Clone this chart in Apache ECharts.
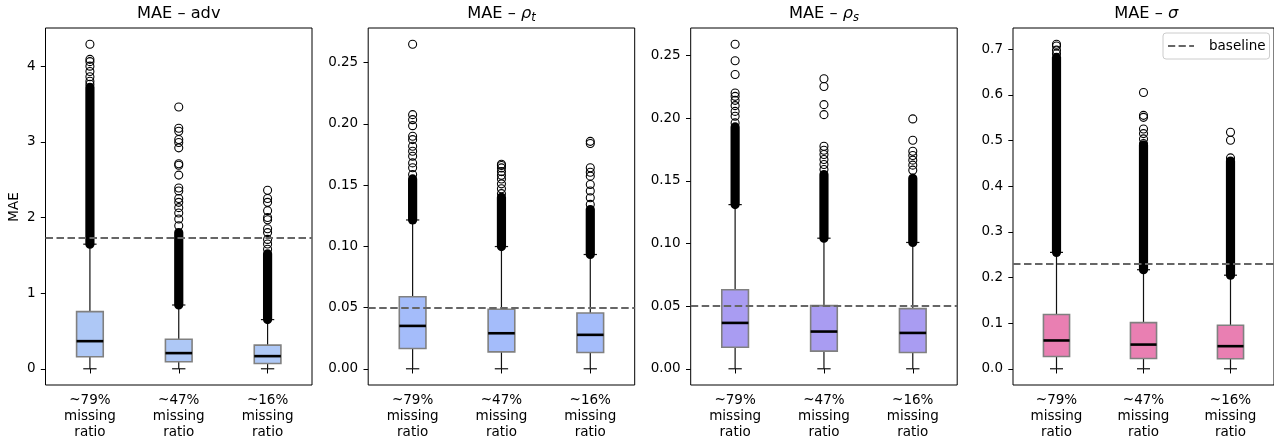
<!DOCTYPE html>
<html>
<head>
<meta charset="utf-8">
<script src="https://cdn.jsdelivr.net/npm/echarts@6/dist/echarts.min.js"></script>
<style>
  html, body { margin: 0; padding: 0; background: #fff; }
  #chart { width: 1274px; height: 440px; }
</style>
</head>
<body>
<div id="chart"></div>
<script>
// ---------------- DATA ----------------
const categories = ['~79%\nmissing\nratio', '~47%\nmissing\nratio', '~16%\nmissing\nratio'];

const titleMain = ['MAE – ', 'MAE – ', 'MAE – ', 'MAE – '];
const titleSymbol = ['adv', 'ρ', 'ρ', 'σ'];
const titleSymbolItalic = [false, true, true, true];
const titleSub = ['', 't', 's', ''];

const yAxisName = 'MAE';
const legendName = 'baseline';

// box stats per category: [whiskerLow, Q1, median, Q3, whiskerHigh]
const advBox   = [[0, 0.158, 0.365, 0.755, 1.647], [0, 0.092, 0.207, 0.390, 0.843], [0, 0.070, 0.167, 0.312, 0.650]];
const rhoTBox  = [[0, 0.0165, 0.0350, 0.0588, 0.1215], [0, 0.0138, 0.0290, 0.0486, 0.0998], [0, 0.0133, 0.0277, 0.0456, 0.0933]];
const rhoSBox  = [[0, 0.0172, 0.0366, 0.0631, 0.1310], [0, 0.0141, 0.0297, 0.0504, 0.1042], [0, 0.0130, 0.0286, 0.0480, 0.1008]];
const sigmaBox = [[0, 0.027, 0.062, 0.119, 0.255], [0, 0.0225, 0.053, 0.101, 0.217], [0, 0.022, 0.0495, 0.0954, 0.205]];

// ranges where outliers overlap into a solid column: [from, to]
const advDense   = [[1.647, 3.72], [0.843, 1.80], [0.650, 1.52]];
const rhoTDense  = [[0.1215, 0.155], [0.0998, 0.140], [0.0933, 0.130]];
const rhoSDense  = [[0.131, 0.193], [0.1042, 0.155], [0.1008, 0.152]];
const sigmaDense = [[0.255, 0.682], [0.217, 0.490], [0.205, 0.455]];

// individually visible outliers
const advOutliers = [
  [4.29, 4.09, 4.06, 4.00, 3.93, 3.86, 3.80, 3.76],
  [3.46, 3.18, 3.14, 3.03, 2.99, 2.92, 2.71, 2.69, 2.56, 2.39, 2.35, 2.25, 2.20, 2.13, 2.06, 1.98, 1.89],
  [2.36, 2.25, 2.20, 2.09, 2.00, 1.97, 1.85, 1.80, 1.71, 1.65, 1.58]
];
const rhoTOutliers = [
  [0.265, 0.2075, 0.2034, 0.1985, 0.1898, 0.1871, 0.1817, 0.1776, 0.1735, 0.1681, 0.1641, 0.1586],
  [0.167, 0.166, 0.164, 0.161, 0.158, 0.155, 0.151, 0.147, 0.143],
  [0.1857, 0.1839, 0.1641, 0.1605, 0.1573, 0.1505, 0.1451, 0.1397, 0.1342]
];
const rhoSOutliers = [
  [0.259, 0.2458, 0.2349, 0.2201, 0.2174, 0.2142, 0.2100, 0.2054, 0.2015, 0.1962],
  [0.2314, 0.2253, 0.2108, 0.2028, 0.1776, 0.1744, 0.1710, 0.1670, 0.1630, 0.1590],
  [0.1994, 0.1824, 0.1736, 0.1702, 0.1665, 0.1625, 0.1585]
];
const sigmaOutliers = [
  [0.711, 0.707, 0.698, 0.690],
  [0.6054, 0.5552, 0.5508, 0.5254, 0.5152, 0.5036, 0.4933],
  [0.518, 0.5005, 0.462]
];

const baselines = [1.73, 0.0508, 0.0512, 0.2263];

const advTicks   = [0, 1, 2, 3, 4];
const rhoTTicks  = [0, 0.05, 0.10, 0.15, 0.20, 0.25];
const rhoSTicks  = [0, 0.05, 0.10, 0.15, 0.20, 0.25];
const sigmaTicks = [0, 0.1, 0.2, 0.3, 0.4, 0.5, 0.6, 0.7];
const tickDecimals = [0, 2, 2, 1];

// ---------------- STYLE / LAYOUT ----------------
const boxColors = ['#aec8f6', '#a4bcfa', '#a99cf2', '#e97fb2'];
const FONT = 'DejaVu Sans';
const FS = 13.5;
const panelLeft = [45.5, 368.2, 690.7, 1013];
const panelWidth = 266.5;
const panelTop = 28;
const panelHeight = 358;

const panels = [
  { box: advBox, dense: advDense, out: advOutliers, ticks: advTicks },
  { box: rhoTBox, dense: rhoTDense, out: rhoTOutliers, ticks: rhoTTicks },
  { box: rhoSBox, dense: rhoSDense, out: rhoSOutliers, ticks: rhoSTicks },
  { box: sigmaBox, dense: sigmaDense, out: sigmaOutliers, ticks: sigmaTicks }
];

function renderBox(color) {
  return function (params, api) {
    const c = api.value(0);
    const bw = api.size([1, 0])[0] * 0.3;
    const p = i => api.coord([c, api.value(i)]);
    const lo = p(1), q1 = p(2), md = p(3), q3 = p(4), hi = p(5);
    const x = lo[0];
    const cap = bw / 4;
    const ls = { stroke: '#111', lineWidth: 1.2, fill: null };
    return {
      type: 'group',
      children: [
        { type: 'line', shape: { x1: x, y1: q3[1], x2: x, y2: hi[1] }, style: ls },
        { type: 'line', shape: { x1: x, y1: q1[1], x2: x, y2: lo[1] }, style: ls },
        { type: 'line', shape: { x1: x - cap, y1: hi[1], x2: x + cap, y2: hi[1] }, style: ls },
        { type: 'line', shape: { x1: x - cap, y1: lo[1], x2: x + cap, y2: lo[1] }, style: ls },
        { type: 'rect', shape: { x: x - bw / 2, y: q3[1], width: bw, height: q1[1] - q3[1] },
          style: { fill: color, stroke: '#808080', lineWidth: 1.6 } },
        { type: 'line', shape: { x1: x - bw / 2, y1: md[1], x2: x + bw / 2, y2: md[1] },
          style: { stroke: '#000', lineWidth: 2.6 } }
      ]
    };
  };
}

function renderDense(params, api) {
  const c = api.value(0);
  const a = api.coord([c, api.value(1)]);
  const b = api.coord([c, api.value(2)]);
  const r = 4.6;
  return {
    type: 'rect',
    shape: { x: a[0] - r, y: b[1] - r, width: 2 * r, height: a[1] - b[1] + 2 * r, r: r },
    style: { fill: '#000' }
  };
}

const grid = [], xAxis = [], yAxis = [], series = [], graphic = [];

panels.forEach((pn, i) => {
  grid.push({
    left: panelLeft[i], top: panelTop, width: panelWidth, height: panelHeight,
    show: true, borderColor: '#000', borderWidth: 1, backgroundColor: 'transparent'
  });
  xAxis.push({
    type: 'category', gridIndex: i, data: categories, boundaryGap: true,
    axisLine: { show: false },
    axisTick: { show: true, alignWithLabel: true, length: 4.7, lineStyle: { color: '#000', width: 1 } },
    axisLabel: { color: '#000', fontFamily: FONT, fontSize: FS, lineHeight: 16, margin: 7, interval: 0 },
    splitLine: { show: false }
  });
  let maxV = 0;
  pn.box.forEach(b => { maxV = Math.max(maxV, b[4]); });
  pn.dense.forEach(d => { maxV = Math.max(maxV, d[1]); });
  pn.out.forEach(o => o.forEach(v => { maxV = Math.max(maxV, v); }));
  const pad = maxV * 0.05;
  yAxis.push({
    type: 'value', gridIndex: i, min: -pad, max: maxV + pad,
    axisLine: { show: false },
    axisTick: { show: true, length: 4.7, customValues: pn.ticks, lineStyle: { color: '#000', width: 1 } },
    axisLabel: {
      color: '#000', fontFamily: FONT, fontSize: FS, margin: 10, customValues: pn.ticks,
      formatter: v => Number(v).toFixed(tickDecimals[i])
    },
    splitLine: { show: false }
  });

  series.push({
    type: 'custom', xAxisIndex: i, yAxisIndex: i, silent: true, z: 2,
    renderItem: renderBox(boxColors[i]),
    encode: { x: 0, y: [1, 2, 3, 4, 5] },
    data: pn.box.map((b, k) => [k].concat(b))
  });
  series.push({
    type: 'custom', xAxisIndex: i, yAxisIndex: i, silent: true, z: 3,
    renderItem: renderDense,
    encode: { x: 0, y: [1, 2] },
    data: pn.dense.map((d, k) => [k, d[0], d[1]])
  });
  const pts = [];
  pn.out.forEach((o, k) => o.forEach(v => pts.push([k, v])));
  series.push({
    type: 'scatter', xAxisIndex: i, yAxisIndex: i, silent: true, z: 4,
    symbol: 'circle', symbolSize: 8,
    itemStyle: { color: 'rgba(0,0,0,0)', borderColor: '#000', borderWidth: 1.1, opacity: 1 },
    data: pts
  });
  series.push({
    name: legendName, type: 'line', xAxisIndex: i, yAxisIndex: i, z: 5,
    symbol: 'none', data: [],
    lineStyle: { color: '#666', width: 2, type: [7.5, 3.5] },
    itemStyle: { color: '#666' },
    markLine: {
      silent: true, symbol: ['none', 'none'], label: { show: false },
      lineStyle: { color: '#666', width: 2, type: [7.5, 3.5] },
      data: [{ yAxis: baselines[i] }]
    }
  });

  const cx = panelLeft[i] + panelWidth / 2;
  const rich = {
    n: { fontFamily: FONT, fontSize: 16.2, color: '#000' },
    s: { fontFamily: FONT, fontSize: 16.2, fontStyle: titleSymbolItalic[i] ? 'italic' : 'normal', color: '#000' },
    b: { fontFamily: FONT, fontSize: 11.5, fontStyle: 'italic', color: '#000', padding: [9, 0, 0, 0] }
  };
  let txt = '{n|' + titleMain[i] + '}{s|' + titleSymbol[i] + '}';
  if (titleSub[i]) txt += '{b|' + titleSub[i] + '}';
  graphic.push({
    type: 'text', x: cx, y: 14, silent: true,
    style: { text: txt, rich: rich, align: 'center', verticalAlign: 'middle',
             fontFamily: FONT, fontSize: 16.2, fill: '#000' }
  });
});

graphic.push({
  type: 'text', x: 14, y: panelTop + panelHeight / 2, rotation: Math.PI / 2, silent: true,
  style: { text: yAxisName, align: 'center', verticalAlign: 'middle', fontFamily: FONT, fontSize: FS, fill: '#000' }
});

const chart = echarts.init(document.getElementById('chart'), null, { renderer: 'canvas' });
chart.setOption({
  backgroundColor: '#fff',
  animation: false,
  grid: grid,
  xAxis: xAxis,
  yAxis: yAxis,
  series: series,
  graphic: graphic,
  legend: {
    data: [{ name: legendName, icon: 'path://M0,0H7.5V2H0Z M11,0H18.5V2H11Z M22,0H27V2H22Z' }],
    left: 1163, top: 33,
    orient: 'vertical',
    padding: [6, 4, 6, 5],
    itemWidth: 26, itemHeight: 2,
    borderColor: '#cccccc', borderWidth: 1, borderRadius: 3,
    backgroundColor: '#fff',
    selectedMode: false,
    itemStyle: { color: '#666', borderWidth: 0 },
    textStyle: { color: '#000', fontFamily: FONT, fontSize: FS, padding: [0, 0, 0, 10] }
  }
});
</script>
</body>
</html>
